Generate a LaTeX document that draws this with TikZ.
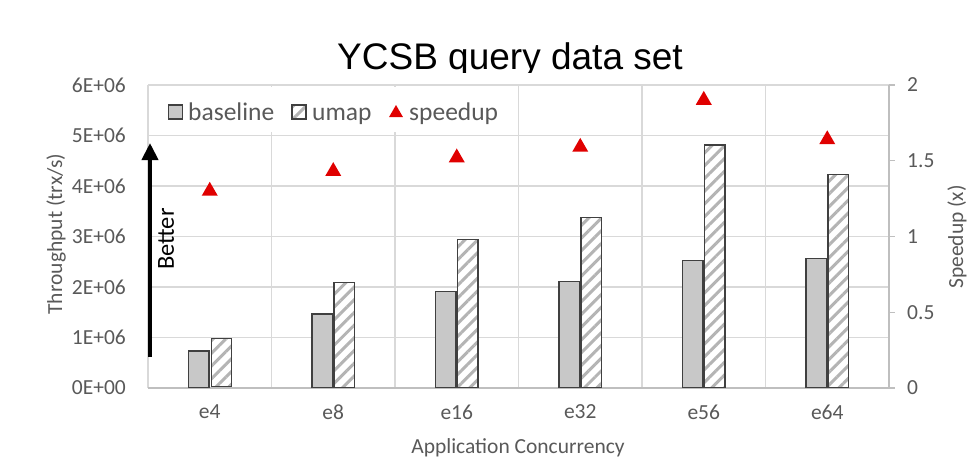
\documentclass[tikz,border=0pt]{standalone}
\usepackage{fontspec}
\setmainfont{Carlito}
\newfontfamily\titlefont{Liberation Sans}
\usepackage{tikz}
\usetikzlibrary{shapes.geometric,arrows.meta,patterns.meta}
\definecolor{C_text}{RGB}{89,89,89}
\definecolor{C_grid}{RGB}{217,217,217}
\definecolor{C_axis}{RGB}{191,191,191}
\definecolor{C_base}{RGB}{200,200,200}
\definecolor{C_edge}{RGB}{64,64,64}
\definecolor{C_hatch}{RGB}{180,180,180}
\definecolor{C_red}{RGB}{224,0,0}

\begin{document}
\begin{tikzpicture}[
    x=1pt, y=-1pt,
    font=\fontsize{21.5}{25}\selectfont,
    gridline/.style={draw=C_grid, line width=1.3pt},
    axisline/.style={draw=C_axis, line width=1.3pt},
    ticklab/.style={text=C_text, inner sep=0pt},
    keylab/.style={ticklab, anchor=base west, font=\fontsize{25.5}{28}\selectfont},
    basebar/.style={draw=C_edge, fill=C_base, line width=1.3pt, minimum width=20.5pt, inner sep=0pt, anchor=south east},
    umapbar/.style={draw=C_edge, line width=1.3pt, minimum width=20.5pt, inner sep=0pt, anchor=south west,
        preaction={fill=white}, pattern={Lines[angle=45,distance=9pt,line width=3pt]}, pattern color=C_hatch},
    spd/.style={regular polygon, regular polygon sides=3, fill=C_red, minimum size=18.5pt, inner sep=0pt},
]
\useasboundingbox (0,0) rectangle (973,463);

% Title (cut at the top of the plot area)
\begin{scope}
\clip (0,0) rectangle (973,72);
\node[anchor=base, font=\titlefont\fontsize{37}{40}\selectfont] (title) at (510,69) {YCSB query data set};
\end{scope}

% Grid
\foreach \yy in {85,135.5,186,236.5,287,337.5}
    \draw[gridline] (148,\yy) -- (889,\yy);
\foreach \xx in {148,271.5,395,518.5,642,765.5}
    \draw[gridline] (\xx,85) -- (\xx,388);
\draw[axisline] (148,388) -- (889,388);
\draw[axisline] (889,85) -- (889,388);
\foreach \yy in {85,160.75,236.5,312.25,388}
    \draw[axisline] (889,\yy) -- (895,\yy);

% Left axis labels
\node[ticklab, anchor=east] (l0) at (126,388)   {0E+00};
\node[ticklab, anchor=east] (l1) at (126,337.5) {1E+06};
\node[ticklab, anchor=east] (l2) at (126,287)   {2E+06};
\node[ticklab, anchor=east] (l3) at (126,236.5) {3E+06};
\node[ticklab, anchor=east] (l4) at (126,186)   {4E+06};
\node[ticklab, anchor=east] (l5) at (126,135.5) {5E+06};
\node[ticklab, anchor=east] (l6) at (126,85)    {6E+06};

% Right axis labels
\node[ticklab, anchor=west] (r0) at (907,388)    {0};
\node[ticklab, anchor=west] (r1) at (907,312.25) {0.5};
\node[ticklab, anchor=west] (r2) at (907,236.5)  {1};
\node[ticklab, anchor=west] (r3) at (907,160.75) {1.5};
\node[ticklab, anchor=west] (r4) at (907,85)     {2};

% Category labels
\node[ticklab] (e4)  at (209.75,412) {e4};
\node[ticklab] (e8)  at (333.25,412) {e8};
\node[ticklab] (e16) at (456.75,412) {e16};
\node[ticklab] (e32) at (580.25,412) {e32};
\node[ticklab] (e56) at (703.75,412) {e56};
\node[ticklab] (e64) at (827.25,412) {e64};

% Axis titles
\node[ticklab, rotate=90] (ytitle) at (56,234) {Throughput (trx/s)};
\node[ticklab, rotate=90] (y2title) at (957,237) {Speedup (x)};
\node[ticklab] (xtitle) at (518,448) {Application Concurrency};

% Baseline bars
\node[basebar, minimum height=0.72*50.5pt] (b1) at (209.75,388) {};
\node[basebar, minimum height=1.45*50.5pt] (b2) at (333.25,388) {};
\node[basebar, minimum height=1.90*50.5pt] (b3) at (456.75,388) {};
\node[basebar, minimum height=2.10*50.5pt] (b4) at (580.25,388) {};
\node[basebar, minimum height=2.51*50.5pt] (b5) at (703.75,388) {};
\node[basebar, minimum height=2.55*50.5pt] (b6) at (827.25,388) {};

% umap bars
\node[umapbar, minimum height=0.95*50.5pt] (u1) at (209.75,388) {};
\node[umapbar, minimum height=2.08*50.5pt] (u2) at (333.25,388) {};
\node[umapbar, minimum height=2.93*50.5pt] (u3) at (456.75,388) {};
\node[umapbar, minimum height=3.36*50.5pt] (u4) at (580.25,388) {};
\node[umapbar, minimum height=4.80*50.5pt] (u5) at (703.75,388) {};
\node[umapbar, minimum height=4.21*50.5pt] (u6) at (827.25,388) {};

% Speedup markers
\node[spd] (s1) at (209.75,{388-151.5*1.30}) {};
\node[spd] (s2) at (333.25,{388-151.5*1.43}) {};
\node[spd] (s3) at (456.75,{388-151.5*1.52}) {};
\node[spd] (s4) at (580.25,{388-151.5*1.59}) {};
\node[spd] (s5) at (703.75,{388-151.5*1.90}) {};
\node[spd] (s6) at (827.25,{388-151.5*1.64}) {};

% Legend
\fill[white] (156,87) rectangle (508,132);
\node[draw=C_edge, fill=C_base, line width=1.2pt, minimum size=14pt, inner sep=0pt] (kb) at (175.5,112) {};
\node[keylab] (kbt) at (188,120) {baseline};
\node[draw=C_edge, line width=1.2pt, minimum size=14pt, inner sep=0pt, preaction={fill=white},
      pattern={Lines[angle=45,distance=9pt,line width=3pt]}, pattern color=C_hatch] (ku) at (299,112) {};
\node[keylab] (kut) at (312,120) {umap};
\node[spd, minimum size=16pt] (ks) at (396,113) {};
\node[keylab] (kst) at (409,120) {speedup};

% Better arrow
\coordinate (arrbot) at (150,357);
\coordinate (arrtop) at (150,143);
\draw[-{Triangle[length=17pt,width=16pt]}, line width=4pt] (arrbot) -- (arrtop);
\node[rotate=90, inner sep=0pt, font=\fontsize{24.5}{28}\selectfont] (better) at (166,239) {Better};
\end{tikzpicture}
\end{document}
